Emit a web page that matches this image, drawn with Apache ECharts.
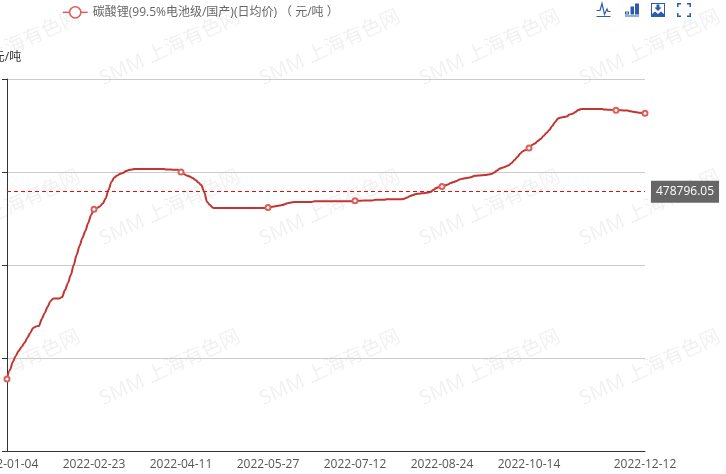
<!DOCTYPE html>
<html>
<head>
<meta charset="utf-8">
<style>html,body{margin:0;padding:0;background:#fff}#c{width:726px;height:474px}</style>
<script src="https://cdn.jsdelivr.net/npm/echarts@6/dist/echarts.min.js"></script>
</head>
<body>
<div id="c"></div>
<script>
const seriesName = '碳酸锂(99.5%电池级/国产)(日均价) （ 元/吨 ）';
const unitName = '元/吨';
const watermarkText = 'SMM 上海有色网';
const averageValue = 478796.05;
const yTicks = [200000, 300000, 400000, 500000, 600000];

const dates = [
'2022-01-04','2022-01-05','2022-01-06','2022-01-07','2022-01-10','2022-01-11','2022-01-12','2022-01-13','2022-01-14',
'2022-01-17','2022-01-18','2022-01-19','2022-01-20','2022-01-21','2022-01-24','2022-01-25','2022-01-26','2022-01-27','2022-01-28',
'2022-02-08','2022-02-09','2022-02-10','2022-02-11','2022-02-14','2022-02-15','2022-02-16','2022-02-17','2022-02-18',
'2022-02-21','2022-02-22','2022-02-23','2022-02-24','2022-02-25','2022-02-28','2022-03-01','2022-03-02','2022-03-03','2022-03-04',
'2022-03-07','2022-03-08','2022-03-09','2022-03-10','2022-03-11','2022-03-15','2022-03-16','2022-03-17','2022-03-18',
'2022-03-21','2022-03-22','2022-03-23','2022-03-24','2022-03-25','2022-03-28','2022-03-29','2022-03-30','2022-03-31','2022-04-01',
'2022-04-06','2022-04-07','2022-04-08','2022-04-11','2022-04-12','2022-04-13','2022-04-14','2022-04-15',
'2022-04-18','2022-04-19','2022-04-20','2022-04-21','2022-04-22','2022-04-25','2022-04-26','2022-04-27','2022-04-28','2022-04-29',
'2022-05-05','2022-05-06','2022-05-09','2022-05-10','2022-05-11','2022-05-12','2022-05-13','2022-05-17','2022-05-18','2022-05-19','2022-05-20',
'2022-05-23','2022-05-24','2022-05-25','2022-05-26','2022-05-27','2022-05-30','2022-05-31','2022-06-01','2022-06-02',
'2022-06-06','2022-06-07','2022-06-08','2022-06-09','2022-06-10','2022-06-14','2022-06-15','2022-06-16','2022-06-17',
'2022-06-20','2022-06-21','2022-06-22','2022-06-23','2022-06-24','2022-06-27','2022-06-28','2022-06-29','2022-06-30','2022-07-01',
'2022-07-04','2022-07-05','2022-07-06','2022-07-07','2022-07-08','2022-07-11','2022-07-12','2022-07-13','2022-07-14','2022-07-15',
'2022-07-18','2022-07-19','2022-07-20','2022-07-21','2022-07-22','2022-07-25','2022-07-26','2022-07-27','2022-07-28','2022-07-29',
'2022-08-01','2022-08-02','2022-08-03','2022-08-04','2022-08-05','2022-08-09','2022-08-10','2022-08-11','2022-08-12',
'2022-08-15','2022-08-16','2022-08-17','2022-08-18','2022-08-19','2022-08-22','2022-08-23','2022-08-24','2022-08-25','2022-08-26',
'2022-08-29','2022-08-30','2022-08-31','2022-09-01','2022-09-02','2022-09-05','2022-09-06','2022-09-07','2022-09-08','2022-09-09',
'2022-09-13','2022-09-14','2022-09-15','2022-09-16','2022-09-20','2022-09-21','2022-09-22','2022-09-23',
'2022-09-26','2022-09-27','2022-09-28','2022-09-29','2022-09-30','2022-10-10','2022-10-11','2022-10-12','2022-10-13','2022-10-14',
'2022-10-18','2022-10-19','2022-10-20','2022-10-21','2022-10-24','2022-10-25','2022-10-26','2022-10-27','2022-10-28',
'2022-10-31','2022-11-01','2022-11-02','2022-11-03','2022-11-04','2022-11-07','2022-11-08','2022-11-09','2022-11-10','2022-11-11',
'2022-11-14','2022-11-15','2022-11-16','2022-11-17','2022-11-18','2022-11-21','2022-11-22','2022-11-23','2022-11-24','2022-11-25',
'2022-11-28','2022-11-29','2022-11-30','2022-12-01','2022-12-02','2022-12-05','2022-12-06','2022-12-07','2022-12-08','2022-12-09','2022-12-12'
];

const prices = [
277500,287000,295700,302200,307500,311800,316000,321500,327000,332250,
334000,334500,342000,348500,355000,361300,364000,364000,364000,365500,
373000,380500,389250,400000,410750,420400,429000,436500,445200,453750,
460000,461300,463000,466000,471500,480700,489250,494000,496250,498000,
499000,501000,502200,502700,503250,503250,503250,503250,503250,503250,
503250,503250,503250,503250,503250,502700,502700,502500,502500,502500,
500000,497900,496250,495200,493500,491400,488700,486000,478500,467750,
464500,461500,461250,461250,461250,461250,461250,461250,461250,461250,
461250,461250,461250,461250,461250,461250,461250,461250,461250,461250,
461800,462400,463000,463500,464000,464500,465600,466700,467200,467750,
467750,467750,467750,467750,467750,467750,468500,468600,468600,468600,
468600,468600,468600,468600,468600,468600,468600,468600,468600,468600,
469100,469000,469100,469350,469350,469350,469350,470200,470200,470200,
470200,470750,470750,470750,470750,470750,470750,471300,472600,474200,
475300,476350,476700,477100,477400,477750,478500,480650,482800,483900,
484400,485500,486550,488200,489250,490300,491900,492700,493200,493750,
494300,495700,496000,496250,496600,496800,497300,497850,499500,501600,
503800,504800,505900,507200,509700,512900,516100,519900,522600,523700,
525800,529000,530600,533300,535500,538700,541900,545200,549500,553800,
557500,558600,559100,559700,561800,562600,564500,566700,567750,567750,
567750,567750,567750,567750,567750,567750,567200,567000,566900,566700,
566500,566500,566300,566200,566000,565300,564900,564300,563800,563400,563100
];

const LABEL_STEP = 30;
const lastIndex = dates.length - 1;
const hasLabel = i => i === lastIndex || (i % LABEL_STEP === 0 && lastIndex - i >= LABEL_STEP);
const hasMarker = i => i === lastIndex || i % LABEL_STEP === 0;
const latin = '"Open Sans","Noto Sans CJK SC",sans-serif';
const blue = '#2b5cb0';
const markerColor = '#d9605c';
const avgColor = '#e01010';

const watermarks = [];
for (let col = 0; col < 5; col++) {
  for (let row = 0; row < 3; row++) {
    watermarks.push({
      type: 'text', silent: true, z: -1,
      x: 10 + col * 160, y: 48 + row * 160,
      rotation: 25 * Math.PI / 180,
      style: { text: watermarkText, fill: 'rgba(0,0,0,0.06)', font: '20px ' + latin, textAlign: 'center', textVerticalAlign: 'middle' }
    });
  }
}

const noop = function () {};
const chart = echarts.init(document.getElementById('c'));
chart.setOption({
  animation: false,
  backgroundColor: '#fff',
  graphic: { elements: watermarks },
  legend: {
    left: 57, top: 1, itemWidth: 25, itemHeight: 14, itemGap: 10,
    data: [seriesName],
    itemStyle: { color: '#fff', borderColor: markerColor, borderWidth: 1.5 },
    lineStyle: { color: markerColor, width: 1.5 },
    textStyle: { color: '#666', fontSize: 12, fontFamily: latin }
  },
  toolbox: {
    right: 20, top: -14, itemSize: 14, itemGap: 12,
    feature: {
      myLine: { show: true, title: '折线图', onclick: noop,
        icon: 'path://M0,7H3.5L5.5,0L8,11L10.5,5.5L11.5,8H14M0,13H14',
        iconStyle: { color: 'none', borderColor: blue, borderWidth: 1.2 } },
      myBar: { show: true, title: '柱状图', onclick: noop,
        icon: 'path://M0,9H4V12H0ZM1,10V11H3V10ZM5.5,4H9V12H5.5ZM10,1H14V12H10ZM0,13H14V14H0Z',
        iconStyle: { color: blue, borderColor: blue, borderWidth: 0 } },
      mySave: { show: true, title: '保存为图片', onclick: noop,
        icon: 'path://M0,0H14V14H0ZM1,1V11L4,8.5L7,11L10,8.5L13,11V1ZM5.5,1.5H8.5V4.5H10.5L7,8L3.5,4.5H5.5Z',
        iconStyle: { color: blue, borderColor: blue, borderWidth: 0 } },
      myFull: { show: true, title: '全屏', onclick: noop,
        icon: 'path://M0,0H4V1.5H1.5V4H0ZM10,0H14V4H12.5V1.5H10ZM0,10H1.5V12.5H4V14H0ZM12.5,10H14V14H10V12.5H12.5Z',
        iconStyle: { color: blue, borderColor: blue, borderWidth: 0 } }
    }
  },
  grid: { left: 7, right: 81, top: 79, bottom: 23, containLabel: false, outerBounds: { left: -200, right: -200, top: -200, bottom: -200 } },
  xAxis: {
    type: 'category', boundaryGap: false, data: dates,
    axisLine: { lineStyle: { color: '#333' } },
    axisTick: { show: false },
    axisLabel: { color: '#555', fontSize: 12, fontFamily: latin, interval: (i) => hasLabel(i), margin: 8, showMaxLabel: true, showMinLabel: true, hideOverlap: false }
  },
  yAxis: {
    type: 'value', min: yTicks[0], max: yTicks[yTicks.length - 1], interval: yTicks[1] - yTicks[0],
    name: unitName, nameGap: 15,
    nameTextStyle: { color: '#333', fontSize: 12, fontFamily: latin },
    axisLine: { show: true, lineStyle: { color: '#333' } },
    axisTick: { show: true, lineStyle: { color: '#333' } },
    axisLabel: { show: false },
    splitLine: { lineStyle: { color: '#ccc' } }
  },
  series: [{
    name: seriesName, type: 'line', data: prices,
    smooth: 0.3, smoothMonotone: 'x',
    showAllSymbol: true,
    symbol: (v, p) => hasMarker(p.dataIndex) ? 'emptyCircle' : 'none',
    symbolSize: 5,
    itemStyle: { color: markerColor, borderWidth: 1 },
    lineStyle: { color: '#c23531', width: 2 },
    markLine: {
      symbol: ['none', 'none'], precision: 2,
      data: [{ yAxis: averageValue }],
      lineStyle: { color: avgColor, type: [4, 3], width: 1, opacity: 1 },
      label: { position: 'end', distance: 6, color: '#fff', backgroundColor: '#666', padding: [5, 5, 5, 5], fontSize: 12, fontFamily: latin, formatter: String(averageValue) }
    }
  }]
});
</script>
</body>
</html>
